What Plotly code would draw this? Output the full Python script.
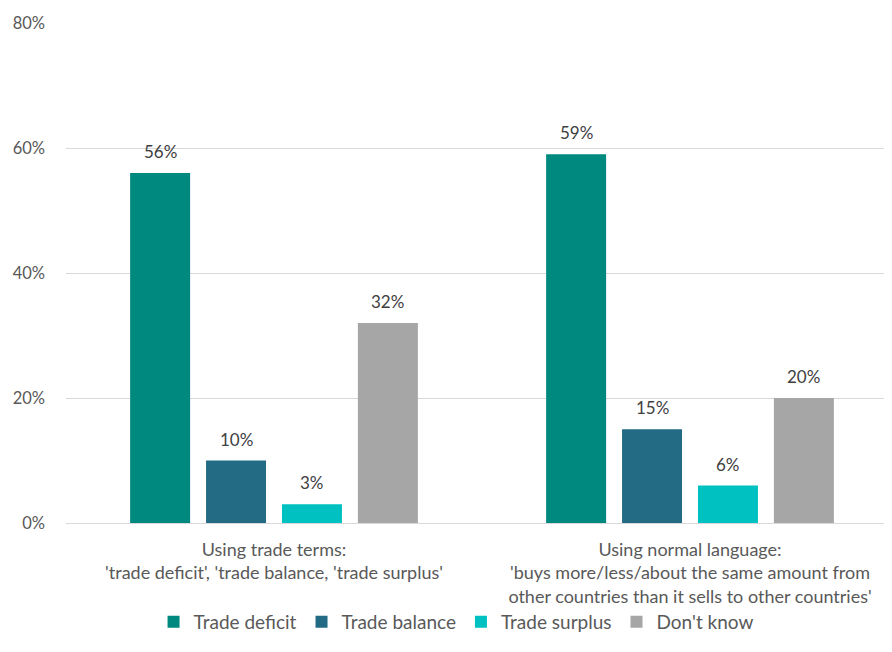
import plotly.graph_objects as go

categories = [
    "Using trade terms:<br>'trade deficit', 'trade balance, 'trade surplus'",
    "Using normal language:<br>'buys more/less/about the same amount from<br>other countries than it sells to other countries'",
]
series_names = ["Trade deficit", "Trade balance", "Trade surplus", "Don't know"]
trade_deficit = [56, 59]
trade_balance = [10, 15]
trade_surplus = [3, 6]
dont_know = [32, 20]
colors = ["#00897F", "#236B84", "#00C1C1", "#A6A6A6"]
y_ticks = [0, 20, 40, 60, 80]
y_ticklabels = ["0%", "20%", "40%", "60%", "80%"]

FONT = "Lato"
W, H = 884, 644          # page body has an 8px margin
ML, MR, MT, MB = 58, 0, 15, 129
plot_w = W - ML - MR
plot_h = H - MT - MB
cat_px = 416             # pixel width of one category slot
BARGAP = 0.27
slot = cat_px * (1 - BARGAP) / 4

all_series = [trade_deficit, trade_balance, trade_surplus, dont_know]
fig = go.Figure()
for name, vals, col in zip(series_names, all_series, colors):
    fig.add_trace(go.Bar(
        x=categories, y=vals, name=name, marker=dict(color=col, line=dict(width=0)),
    ))

annotations = []
for i, vals in enumerate(all_series):
    for cat, v in zip(categories, vals):
        annotations.append(dict(
            x=cat, y=v, xref="x", yref="y", text=f"{v}%", showarrow=False,
            xanchor="center", yanchor="bottom", yshift=9, xshift=(i - 1.5) * slot,
            font=dict(size=17, color="#404040", family=FONT),
        ))

fig.update_layout(
    width=W, height=H, autosize=False,
    margin=dict(l=ML, r=MR, t=MT, b=MB),
    paper_bgcolor="white", plot_bgcolor="white",
    barmode="group", bargap=BARGAP, bargroupgap=0.21,
    font=dict(family=FONT, size=16, color="#595959"),
    showlegend=True,
    legend=dict(orientation="h", x=0.106, xanchor="left", y=-99 / plot_h, yanchor="middle",
                font=dict(size=19, color="#595959"), itemwidth=30, traceorder="normal"),
    annotations=annotations,
)
fig.update_yaxes(range=[0, 80], tickvals=y_ticks, ticktext=y_ticklabels,
                 showgrid=True, gridcolor="#D9D9D9", gridwidth=1.3,
                 zeroline=True, zerolinecolor="#D9D9D9", zerolinewidth=1.3,
                 showline=False, ticks="", tickfont=dict(size=16.5, color="#595959"),
                 ticklabelstandoff=20, automargin=False)
fig.update_xaxes(range=[-0.5, -0.5 + plot_w / cat_px],
                 showline=False, ticks="", tickfont=dict(size=18, color="#595959"),
                 ticklabelstandoff=14, automargin=False)

fig.write_html("out.html")
